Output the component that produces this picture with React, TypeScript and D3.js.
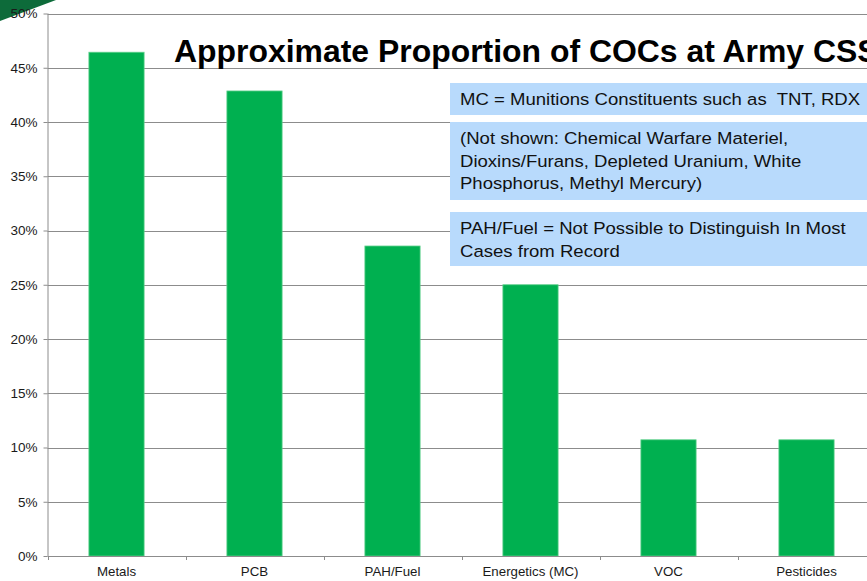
import * as d3 from "d3";
import React, { useEffect, useRef } from "react";

// values (share of sites, %)
const categories = ["Metals", "PCB", "PAH/Fuel", "Energetics (MC)", "VOC", "Pesticides"];
const shares = [46.43, 42.86, 28.57, 25.0, 10.71, 10.71];
const yTicks = [0, 5, 10, 15, 20, 25, 30, 35, 40, 45, 50];

const titleText = "Approximate Proportion of COCs at Army CSSs";
const noteBoxes = [
    ["MC = Munitions Constituents such as  TNT, RDX"],
    ["(Not shown: Chemical Warfare Materiel,", "Dioxins/Furans, Depleted Uranium, White", "Phosphorus, Methyl Mercury)"],
    ["PAH/Fuel = Not Possible to Distinguish In Most", "Cases from Record"],
];

export default function App() {
    const ref = useRef<SVGSVGElement>(null);

    useEffect(() => {
        const width = 867;
        const height = 581;
        const svg = d3.select(ref.current);
        svg.selectAll("*").remove();

        const left = 47.5;
        const top = 13.5;
        const bottom = 556;

        const x = d3.scaleBand().domain(categories).range([left, left + 6 * 138]).paddingInner(0.6).paddingOuter(0.3);
        const y = d3.scaleLinear().domain([0, 50]).range([bottom, top]);

        const font = "Liberation Sans, Arial, sans-serif";

        // corner decoration
        svg.append("path").attr("d", "M0,0 L56,0 L0,21 Z").attr("fill", "#0d6b3a");

        // gridlines
        svg.append("g")
            .selectAll("line")
            .data(yTicks.filter((t) => t > 0))
            .enter()
            .append("line")
            .attr("x1", left)
            .attr("x2", width)
            .attr("y1", (d) => Math.round(y(d)) + 0.5)
            .attr("y2", (d) => Math.round(y(d)) + 0.5)
            .attr("stroke", "#8c8c8c");

        // y axis
        const yAxis = svg.append("g").attr("transform", `translate(${left},0)`)
            .call(d3.axisLeft(y).tickValues(yTicks).tickSize(4).tickPadding(6).tickFormat((d) => `${d}%`));
        yAxis.select(".domain").attr("stroke", "#8c8c8c").attr("d", `M0.5,${top}V${bottom}`);
        yAxis.selectAll(".tick line").attr("stroke", "#8c8c8c");
        yAxis.selectAll("text").attr("font-family", font).attr("font-size", 13.5).attr("fill", "#1a1a1a");

        // bars
        svg.append("g")
            .selectAll("rect")
            .data(categories)
            .enter()
            .append("rect")
            .attr("x", (d) => x(d)!)
            .attr("width", x.bandwidth())
            .attr("y", (d, i) => y(shares[i]))
            .attr("height", (d, i) => bottom - y(shares[i]))
            .attr("fill", "#00b050")
            .attr("stroke", "#5ccf8a")
            .attr("stroke-width", 0.8);

        // x axis
        const xAxis = svg.append("g").attr("transform", `translate(0,${bottom})`)
            .call(d3.axisBottom(x).tickSize(0).tickPadding(11));
        xAxis.select(".domain").attr("stroke", "#8c8c8c").attr("d", `M${left},0.5H${width}`);
        xAxis.selectAll("text").attr("font-family", font).attr("font-size", 13.3).attr("fill", "#1a1a1a");
        svg.append("g")
            .selectAll("line")
            .data(d3.range(0, 7))
            .enter()
            .append("line")
            .attr("x1", (i) => Math.round(left + i * 138) + 0.5)
            .attr("x2", (i) => Math.round(left + i * 138) + 0.5)
            .attr("y1", bottom)
            .attr("y2", bottom + 4)
            .attr("stroke", "#8c8c8c");

        // title (runs off the right edge like in the slide)
        svg.append("text")
            .attr("transform", "translate(174,62) scale(1.03,1)")
            .attr("font-family", font)
            .attr("font-weight", "bold")
            .attr("font-size", 31)
            .attr("fill", "#000")
            .text(titleText);

        // note boxes
        const boxTops = [83, 122, 212];
        const boxHeights = [32, 78, 54];
        noteBoxes.forEach((lines, i) => {
            const g = svg.append("g");
            g.append("rect")
                .attr("x", 450)
                .attr("y", boxTops[i])
                .attr("width", width - 450)
                .attr("height", boxHeights[i])
                .attr("fill", "#b8dafc");
            lines.forEach((line, j) => {
                g.append("text")
                    .attr("transform", `translate(460,${boxTops[i] + 22 + j * 22.5}) scale(1.125,1)`)
                    .attr("font-family", font)
                    .attr("font-size", 16.5)
                    .attr("fill", "#111")
                    .style("white-space", "pre")
                    .text(line);
            });
        });
    }, []);

    return (
        <svg
            ref={ref}
            width={867}
            height={581}
            style={{ position: "absolute", left: 0, top: 0, background: "#fff" }}
        />
    );
}
